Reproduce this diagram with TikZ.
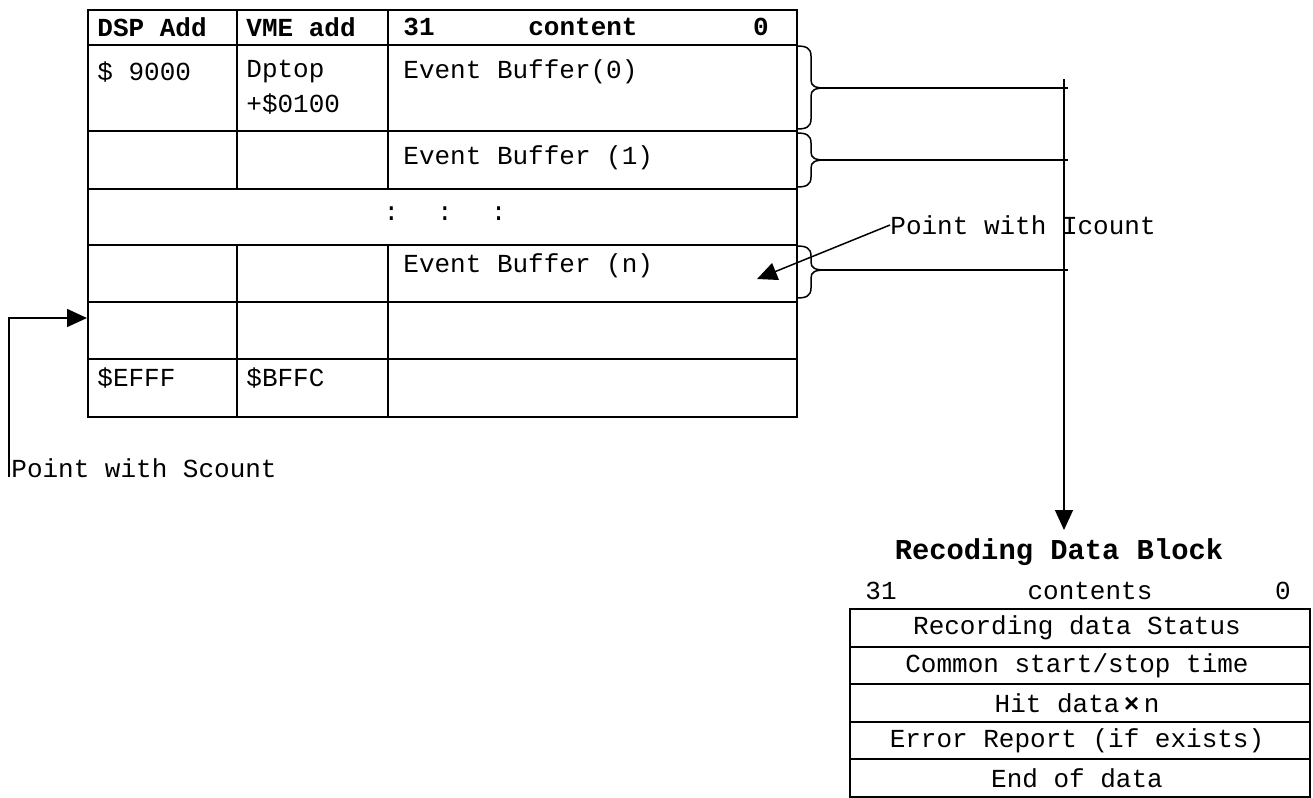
\documentclass[tikz,border=0pt]{standalone}
\usepackage{fontspec}
\usetikzlibrary{arrows.meta}
\newfontfamily\cour{Liberation Mono}
\tikzset{
  txt/.style={inner sep=0pt, anchor=west, font=\cour\fontsize{13}{15}\selectfont},
  ctxt/.style={inner sep=0pt, anchor=center, font=\cour\fontsize{13}{15}\selectfont},
  btxt/.style={inner sep=0pt, anchor=west, font=\cour\bfseries\fontsize{13}{15}\selectfont},
  bctxt/.style={inner sep=0pt, anchor=center, font=\cour\bfseries\fontsize{13}{15}\selectfont},
  grid/.style={line width=1pt},
  thin/.style={line width=0.75pt},
  tri/.tip={Triangle[length=10pt,width=9pt]},
}
\newcommand\mybrace[3]{% y1, ymid, y2
  \draw[thin] (797,#1) .. controls (806,#1) and (811,#1+2) .. (811,#1+10)
    -- (811,#2-8) .. controls (811,#2-2) and (815,#2) .. (825,#2)
    .. controls (815,#2) and (811,#2+2) .. (811,#2+8)
    -- (811,#3-10) .. controls (811,#3-2) and (806,#3) .. (797,#3);}
\begin{document}
\begin{tikzpicture}[x=0.5pt,y=-0.5pt]
\useasboundingbox (0,0) rectangle (1313,798);
% main table
\draw[grid] (88,10) rectangle (797,417);
\foreach \yy in {45,131,189,245,302,359} \draw[grid] (88,\yy) -- (797,\yy);
\draw[grid] (237,10) -- (237,189);
\draw[grid] (388,10) -- (388,189);
\draw[grid] (237,245) -- (237,417);
\draw[grid] (388,245) -- (388,417);
% header
\node[btxt] (h1) at (97,27) {DSP Add};
\node[btxt] (h2) at (246,27) {VME add};
\node[btxt] (h3) at (403,27) {31};
\node[bctxt] (h4) at (583,27) {content};
\node[bctxt] (h5) at (761,27) {0};
% rows
\node[txt] (r1a) at (97,72) {\$ 9000};
\node[txt] (r1b) at (246,72) {Dptop};
\node[txt] (r1b2) at (246,104) {+\$0100};
\node[txt] (r1c) at (403,72) {Event Buffer(0)};
\node[txt] (r2c) at (403,158) {Event Buffer (1)};
\node[ctxt] (dots) at (445,214) {:\hspace{19pt}:\hspace{19pt}:};
\node[txt] (rnc) at (403,266) {Event Buffer (n)};
\node[txt] (r6a) at (97,378) {\$EFFF};
\node[txt] (r6b) at (246,378) {\$BFFC};
% braces
\mybrace{46}{88}{129}
\mybrace{133}{160}{187}
\mybrace{246}{270}{298}
\coordinate (b1) at (825,88);
\coordinate (b2) at (825,160);
\coordinate (b3) at (825,270);
\coordinate (e1) at (1068,88);
\coordinate (e2) at (1068,160);
\coordinate (e3) at (1068,270);
\draw[thin] (b1) -- (e1);
\draw[thin] (b2) -- (e2);
\draw[thin] (b3) -- (e3);
\coordinate (vtop) at (1064,79);
\coordinate (vend) at (1064,530);
\draw[thin,-tri] (vtop) -- (vend);
% Icount
\node[txt] (ic) at (890,225) {Point with Icount};
\coordinate (icend) at (757,279);
\draw[thin,-tri] (ic.west) -- (icend);
% Scount
\node[txt] (sc) at (11,468) {Point with Scount};
\coordinate (scbot) at (9,477);
\coordinate (sctip) at (87,318);
\draw[thin,-tri] (scbot) |- (sctip);
% recording block
\node[bctxt,font=\cour\bfseries\fontsize{14.4}{16}\selectfont] (title) at (1059,552) {Recoding Data Block};
\node[txt] (k1) at (865,591) {31};
\node[ctxt] (k2) at (1090,591) {contents};
\node[ctxt] (k3) at (1283,591) {0};
\draw[grid] (850,609) rectangle (1310,797);
\foreach \yy in {647,684,722,759} \draw[grid] (850,\yy) -- (1310,\yy);
\node[ctxt] (d1) at (1077,628) {Recording data Status};
\node[ctxt] (d2) at (1077,665.5) {Common start/stop time};
\node[ctxt] (d3) at (1077,703) {Hit data\,{\bfseries\fontsize{13}{14}\selectfont ×}\,n};
\node[ctxt] (d4) at (1077,740.5) {Error Report (if exists)};
\node[ctxt] (d5) at (1077,778) {End of data};
\end{tikzpicture}
\end{document}
